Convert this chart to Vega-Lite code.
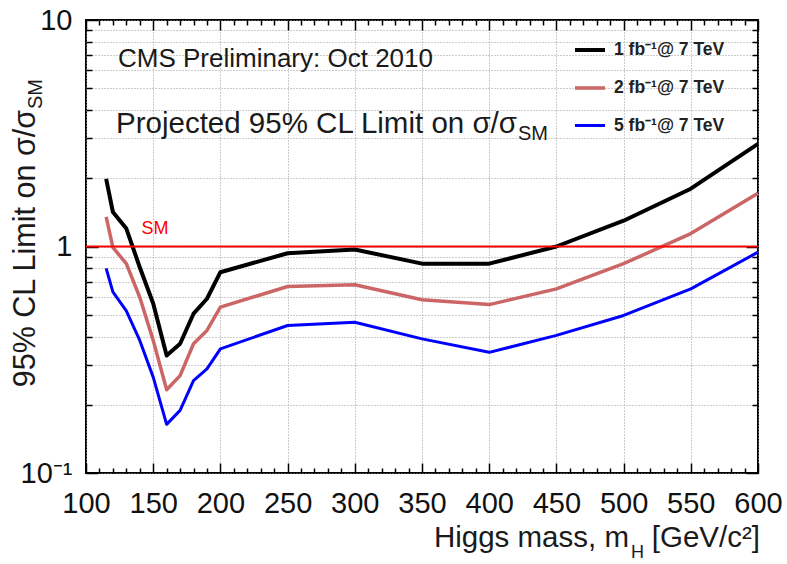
{
  "$schema": "https://vega.github.io/schema/vega-lite/v6.json",
  "width": 672,
  "height": 453,
  "autosize": {"type": "none"},
  "padding": {"left": 86, "top": 20, "right": 29, "bottom": 91},
  "background": "white",
  "config": {
    "view": {"stroke": "#000000", "strokeWidth": 2},
    "font": "Liberation Sans",
    "axis": {
      "domain": false,
      "tickColor": "#000000",
      "tickWidth": 1.5,
      "labelFont": "Liberation Sans",
      "labelFontSize": 29,
      "labelColor": "#111111",
      "gridColor": "#999999",
      "gridDash": [1, 2],
      "gridWidth": 1,
      "title": null
    },
    "legend": {
      "orient": "none",
      "legendX": 487,
      "legendY": 13,
      "direction": "vertical",
      "symbolType": "stroke",
      "symbolSize": 900,
      "symbolStrokeWidth": 3.5,
      "labelFont": "Liberation Sans",
      "labelFontSize": 17.5,
      "labelFontWeight": "bold",
      "labelColor": "#222222",
      "labelOffset": 7,
      "labelLimit": 300,
      "rowPadding": 12,
      "padding": 0
    }
  },
  "resolve": {"axis": {"x": "independent", "y": "independent"}},
  "layer": [
    {
      "data": {
        "values": [
          {"mass": 115, "limit": 1.99, "lumi": "1 fb⁻¹@ 7 TeV"},
          {"mass": 120, "limit": 1.42, "lumi": "1 fb⁻¹@ 7 TeV"},
          {"mass": 130, "limit": 1.2, "lumi": "1 fb⁻¹@ 7 TeV"},
          {"mass": 140, "limit": 0.81, "lumi": "1 fb⁻¹@ 7 TeV"},
          {"mass": 150, "limit": 0.56, "lumi": "1 fb⁻¹@ 7 TeV"},
          {"mass": 160, "limit": 0.33, "lumi": "1 fb⁻¹@ 7 TeV"},
          {"mass": 170, "limit": 0.372, "lumi": "1 fb⁻¹@ 7 TeV"},
          {"mass": 180, "limit": 0.505, "lumi": "1 fb⁻¹@ 7 TeV"},
          {"mass": 190, "limit": 0.588, "lumi": "1 fb⁻¹@ 7 TeV"},
          {"mass": 200, "limit": 0.77, "lumi": "1 fb⁻¹@ 7 TeV"},
          {"mass": 250, "limit": 0.934, "lumi": "1 fb⁻¹@ 7 TeV"},
          {"mass": 300, "limit": 0.97, "lumi": "1 fb⁻¹@ 7 TeV"},
          {"mass": 350, "limit": 0.84, "lumi": "1 fb⁻¹@ 7 TeV"},
          {"mass": 400, "limit": 0.84, "lumi": "1 fb⁻¹@ 7 TeV"},
          {"mass": 450, "limit": 1.0, "lumi": "1 fb⁻¹@ 7 TeV"},
          {"mass": 500, "limit": 1.3, "lumi": "1 fb⁻¹@ 7 TeV"},
          {"mass": 550, "limit": 1.8, "lumi": "1 fb⁻¹@ 7 TeV"},
          {"mass": 600, "limit": 2.84, "lumi": "1 fb⁻¹@ 7 TeV"},
          {"mass": 115, "limit": 1.35, "lumi": "2 fb⁻¹@ 7 TeV"},
          {"mass": 120, "limit": 0.99, "lumi": "2 fb⁻¹@ 7 TeV"},
          {"mass": 130, "limit": 0.84, "lumi": "2 fb⁻¹@ 7 TeV"},
          {"mass": 140, "limit": 0.597, "lumi": "2 fb⁻¹@ 7 TeV"},
          {"mass": 150, "limit": 0.385, "lumi": "2 fb⁻¹@ 7 TeV"},
          {"mass": 160, "limit": 0.233, "lumi": "2 fb⁻¹@ 7 TeV"},
          {"mass": 170, "limit": 0.269, "lumi": "2 fb⁻¹@ 7 TeV"},
          {"mass": 180, "limit": 0.372, "lumi": "2 fb⁻¹@ 7 TeV"},
          {"mass": 190, "limit": 0.426, "lumi": "2 fb⁻¹@ 7 TeV"},
          {"mass": 200, "limit": 0.54, "lumi": "2 fb⁻¹@ 7 TeV"},
          {"mass": 250, "limit": 0.666, "lumi": "2 fb⁻¹@ 7 TeV"},
          {"mass": 300, "limit": 0.678, "lumi": "2 fb⁻¹@ 7 TeV"},
          {"mass": 350, "limit": 0.582, "lumi": "2 fb⁻¹@ 7 TeV"},
          {"mass": 400, "limit": 0.554, "lumi": "2 fb⁻¹@ 7 TeV"},
          {"mass": 450, "limit": 0.65, "lumi": "2 fb⁻¹@ 7 TeV"},
          {"mass": 500, "limit": 0.84, "lumi": "2 fb⁻¹@ 7 TeV"},
          {"mass": 550, "limit": 1.14, "lumi": "2 fb⁻¹@ 7 TeV"},
          {"mass": 600, "limit": 1.72, "lumi": "2 fb⁻¹@ 7 TeV"},
          {"mass": 115, "limit": 0.8, "lumi": "5 fb⁻¹@ 7 TeV"},
          {"mass": 120, "limit": 0.63, "lumi": "5 fb⁻¹@ 7 TeV"},
          {"mass": 130, "limit": 0.52, "lumi": "5 fb⁻¹@ 7 TeV"},
          {"mass": 140, "limit": 0.385, "lumi": "5 fb⁻¹@ 7 TeV"},
          {"mass": 150, "limit": 0.265, "lumi": "5 fb⁻¹@ 7 TeV"},
          {"mass": 160, "limit": 0.164, "lumi": "5 fb⁻¹@ 7 TeV"},
          {"mass": 170, "limit": 0.189, "lumi": "5 fb⁻¹@ 7 TeV"},
          {"mass": 180, "limit": 0.256, "lumi": "5 fb⁻¹@ 7 TeV"},
          {"mass": 190, "limit": 0.288, "lumi": "5 fb⁻¹@ 7 TeV"},
          {"mass": 200, "limit": 0.353, "lumi": "5 fb⁻¹@ 7 TeV"},
          {"mass": 250, "limit": 0.448, "lumi": "5 fb⁻¹@ 7 TeV"},
          {"mass": 300, "limit": 0.463, "lumi": "5 fb⁻¹@ 7 TeV"},
          {"mass": 350, "limit": 0.391, "lumi": "5 fb⁻¹@ 7 TeV"},
          {"mass": 400, "limit": 0.341, "lumi": "5 fb⁻¹@ 7 TeV"},
          {"mass": 450, "limit": 0.405, "lumi": "5 fb⁻¹@ 7 TeV"},
          {"mass": 500, "limit": 0.496, "lumi": "5 fb⁻¹@ 7 TeV"},
          {"mass": 550, "limit": 0.65, "lumi": "5 fb⁻¹@ 7 TeV"},
          {"mass": 600, "limit": 0.944, "lumi": "5 fb⁻¹@ 7 TeV"}
        ]
      },
      "mark": {"type": "line", "strokeJoin": "round"},
      "encoding": {
        "x": {
          "field": "mass",
          "type": "quantitative",
          "scale": {"domain": [100, 600], "nice": false, "zero": false},
          "axis": {
            "orient": "bottom",
            "values": [100, 110, 120, 130, 140, 150, 160, 170, 180, 190, 200, 210, 220, 230, 240, 250, 260, 270, 280, 290, 300, 310, 320, 330, 340, 350, 360, 370, 380, 390, 400, 410, 420, 430, 440, 450, 460, 470, 480, 490, 500, 510, 520, 530, 540, 550, 560, 570, 580, 590, 600],
            "format": "d",
            "labelExpr": "datum.value % 50 === 0 ? datum.label : ''",
            "labelPadding": 26,
            "labelFlush": false,
            "labelOverlap": false,
            "tickSize": {"condition": {"test": "datum.value % 50 === 0", "value": -10}, "value": -5},
            "grid": true,
            "gridOpacity": {"condition": {"test": "datum.value % 50 === 0", "value": 1}, "value": 0}
          }
        },
        "y": {
          "field": "limit",
          "type": "quantitative",
          "scale": {"type": "log", "domain": [0.1, 10], "nice": false},
          "axis": {
            "orient": "left",
            "values": [0.1, 0.2, 0.3, 0.4, 0.5, 0.6, 0.7, 0.8, 0.9, 1, 2, 3, 4, 5, 6, 7, 8, 9, 10],
            "labelExpr": "datum.value === 10 ? '10' : datum.value === 1 ? '1' : datum.value === 0.1 ? '10⁻¹' : ''",
            "labelPadding": 26,
            "labelFlush": false,
            "labelOverlap": false,
            "labelBaseline": "middle",
            "tickSize": {"condition": {"test": "datum.value === 0.1 || datum.value === 1 || datum.value === 10", "value": -12}, "value": -6},
            "grid": true
          }
        },
        "color": {
          "field": "lumi",
          "type": "nominal",
          "scale": {"domain": ["1 fb⁻¹@ 7 TeV", "2 fb⁻¹@ 7 TeV", "5 fb⁻¹@ 7 TeV"], "range": ["#000000", "#cc6666", "#0000ff"]},
          "legend": {"title": null}
        },
        "strokeWidth": {
          "field": "lumi",
          "type": "nominal",
          "scale": {"domain": ["1 fb⁻¹@ 7 TeV", "2 fb⁻¹@ 7 TeV", "5 fb⁻¹@ 7 TeV"], "range": [4, 3, 3]},
          "legend": null
        }
      }
    },
    {
      "data": {"values": [{"mass": 100, "mass_end": 600, "limit": 1}]},
      "mark": {"type": "rule", "color": "#ff0000", "strokeWidth": 2},
      "encoding": {
        "x": {
          "field": "mass",
          "type": "quantitative",
          "scale": {"domain": [100, 600], "nice": false, "zero": false},
          "axis": {
            "orient": "top",
            "values": [100, 110, 120, 130, 140, 150, 160, 170, 180, 190, 200, 210, 220, 230, 240, 250, 260, 270, 280, 290, 300, 310, 320, 330, 340, 350, 360, 370, 380, 390, 400, 410, 420, 430, 440, 450, 460, 470, 480, 490, 500, 510, 520, 530, 540, 550, 560, 570, 580, 590, 600],
            "labels": false,
            "grid": false,
            "tickSize": {"condition": {"test": "datum.value % 50 === 0", "value": -10}, "value": -5}
          }
        },
        "x2": {"field": "mass_end"},
        "y": {
          "field": "limit",
          "type": "quantitative",
          "scale": {"type": "log", "domain": [0.1, 10], "nice": false},
          "axis": {
            "orient": "right",
            "values": [0.1, 0.2, 0.3, 0.4, 0.5, 0.6, 0.7, 0.8, 0.9, 1, 2, 3, 4, 5, 6, 7, 8, 9, 10],
            "labels": false,
            "grid": false,
            "tickSize": {"condition": {"test": "datum.value === 0.1 || datum.value === 1 || datum.value === 10", "value": -12}, "value": -6}
          }
        }
      }
    },
    {
      "data": {"values": [{"mass": 151.3, "limit": 1.136, "text": "SM"}]},
      "mark": {"type": "text", "align": "center", "baseline": "alphabetic", "fontSize": 18, "color": "#ff0000"},
      "encoding": {
        "x": {"field": "mass", "type": "quantitative", "scale": {"domain": [100, 600], "nice": false, "zero": false}, "axis": null},
        "y": {"field": "limit", "type": "quantitative", "scale": {"type": "log", "domain": [0.1, 10], "nice": false}, "axis": null},
        "text": {"field": "text"}
      }
    },
    {
      "data": {"values": [{"mass": 123.8, "limit": 6.22, "text": "CMS Preliminary: Oct 2010"}]},
      "mark": {"type": "text", "align": "left", "baseline": "alphabetic", "fontSize": 26, "color": "#1a1a1a"},
      "encoding": {
        "x": {"field": "mass", "type": "quantitative", "scale": {"domain": [100, 600], "nice": false, "zero": false}, "axis": null},
        "y": {"field": "limit", "type": "quantitative", "scale": {"type": "log", "domain": [0.1, 10], "nice": false}, "axis": null},
        "text": {"field": "text"}
      }
    },
    {
      "data": {"values": [{"mass": 420.7, "limit": 3.161, "text": "Projected 95% CL Limit on σ/σ"}]},
      "mark": {"type": "text", "align": "right", "baseline": "alphabetic", "fontSize": 29.5, "color": "#1a1a1a"},
      "encoding": {
        "x": {"field": "mass", "type": "quantitative", "scale": {"domain": [100, 600], "nice": false, "zero": false}, "axis": null},
        "y": {"field": "limit", "type": "quantitative", "scale": {"type": "log", "domain": [0.1, 10], "nice": false}, "axis": null},
        "text": {"field": "text"}
      }
    },
    {
      "data": {"values": [{"mass": 421.4, "limit": 2.953, "text": "SM"}]},
      "mark": {"type": "text", "align": "left", "baseline": "alphabetic", "fontSize": 20, "color": "#1a1a1a"},
      "encoding": {
        "x": {"field": "mass", "type": "quantitative", "scale": {"domain": [100, 600], "nice": false, "zero": false}, "axis": null},
        "y": {"field": "limit", "type": "quantitative", "scale": {"type": "log", "domain": [0.1, 10], "nice": false}, "axis": null},
        "text": {"field": "text"}
      }
    },
    {
      "data": {"values": [{"mass": 62.05, "limit": 4.006, "text": "95% CL Limit on σ/σ"}]},
      "mark": {"type": "text", "angle": 270, "align": "right", "baseline": "alphabetic", "fontSize": 30.5, "color": "#1a1a1a"},
      "encoding": {
        "x": {"field": "mass", "type": "quantitative", "scale": {"domain": [100, 600], "nice": false, "zero": false}, "axis": null},
        "y": {"field": "limit", "type": "quantitative", "scale": {"type": "log", "domain": [0.1, 10], "nice": false}, "axis": null},
        "text": {"field": "text"}
      }
    },
    {
      "data": {"values": [{"mass": 67.26, "limit": 4.047, "text": "SM"}]},
      "mark": {"type": "text", "angle": 270, "align": "left", "baseline": "alphabetic", "fontSize": 20, "color": "#1a1a1a"},
      "encoding": {
        "x": {"field": "mass", "type": "quantitative", "scale": {"domain": [100, 600], "nice": false, "zero": false}, "axis": null},
        "y": {"field": "limit", "type": "quantitative", "scale": {"type": "log", "domain": [0.1, 10], "nice": false}, "axis": null},
        "text": {"field": "text"}
      }
    },
    {
      "data": {"values": [{"mass": 504.0, "limit": 0.04698, "text": "Higgs mass, m"}]},
      "mark": {"type": "text", "align": "right", "baseline": "alphabetic", "fontSize": 29.5, "color": "#1a1a1a"},
      "encoding": {
        "x": {"field": "mass", "type": "quantitative", "scale": {"domain": [100, 600], "nice": false, "zero": false}, "axis": null},
        "y": {"field": "limit", "type": "quantitative", "scale": {"type": "log", "domain": [0.1, 10], "nice": false}, "axis": null},
        "text": {"field": "text"}
      }
    },
    {
      "data": {"values": [{"mass": 505.5, "limit": 0.04214, "text": "H"}]},
      "mark": {"type": "text", "align": "left", "baseline": "alphabetic", "fontSize": 18, "color": "#1a1a1a"},
      "encoding": {
        "x": {"field": "mass", "type": "quantitative", "scale": {"domain": [100, 600], "nice": false, "zero": false}, "axis": null},
        "y": {"field": "limit", "type": "quantitative", "scale": {"type": "log", "domain": [0.1, 10], "nice": false}, "axis": null},
        "text": {"field": "text"}
      }
    },
    {
      "data": {"values": [{"mass": 601.5, "limit": 0.04698, "text": "[GeV/c²]"}]},
      "mark": {"type": "text", "align": "right", "baseline": "alphabetic", "fontSize": 29.5, "color": "#1a1a1a"},
      "encoding": {
        "x": {"field": "mass", "type": "quantitative", "scale": {"domain": [100, 600], "nice": false, "zero": false}, "axis": null},
        "y": {"field": "limit", "type": "quantitative", "scale": {"type": "log", "domain": [0.1, 10], "nice": false}, "axis": null},
        "text": {"field": "text"}
      }
    }
  ]
}
